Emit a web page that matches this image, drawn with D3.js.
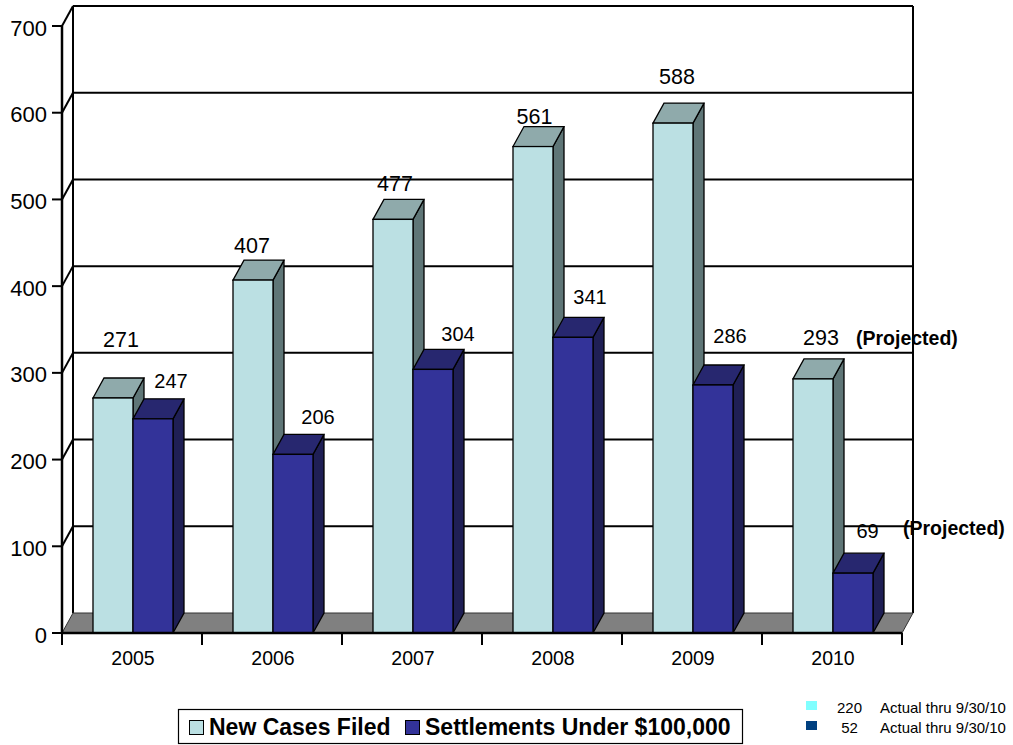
<!DOCTYPE html>
<html>
<head>
<meta charset="utf-8">
<script src="https://cdn.jsdelivr.net/npm/d3@7"></script>
<style>
  html, body { margin: 0; padding: 0; background: #fff; }
  svg { display: block; font-family: "Liberation Sans", Arial, sans-serif; }
</style>
</head>
<body>
<svg id="chart" width="1013" height="745"></svg>
<script>
// Yearly counts
const years = ["2005", "2006", "2007", "2008", "2009", "2010"];
const newCases = [271, 407, 477, 561, 588, 293];
const settlements = [247, 206, 304, 341, 286, 69];
const yTicks = [0, 100, 200, 300, 400, 500, 600, 700];
const seriesNames = ["New Cases Filed", "Settlements Under $100,000"];
const noteValues = [220, 52];
const noteText = "Actual thru 9/30/10";
const projectedText = "(Projected)";

const svg = d3.select("#chart");

// 3-D box geometry
const DX = 11, DY = -20;
const x = d3.scaleBand().domain(years).range([62, 902]).paddingInner(0).paddingOuter(0);
const y = d3.scaleLinear().domain([0, 700]).range([633, 26]);
const xLeft = x.range()[0], xRight = x.range()[1];

const light = { front: "#bbe0e3", top: "#8faaab", side: "#5f7677" };
const dark = { front: "#333399", top: "#27276f", side: "#1f1f55" };
const noteColors = ["#80ffff", "#004080"];

// Back wall gridlines and left wall diagonals
const grid = svg.append("g").attr("stroke", "#000").attr("stroke-width", 2);
yTicks.filter(d => d > 0).forEach(t => {
  grid.append("line")
    .attr("x1", xLeft + DX).attr("x2", xRight + DX)
    .attr("y1", y(t) + DY).attr("y2", y(t) + DY);
  grid.append("line")
    .attr("x1", xLeft).attr("x2", xLeft + DX)
    .attr("y1", y(t)).attr("y2", y(t) + DY);
});
[xLeft + DX, xRight + DX].forEach(px => {
  grid.append("line")
    .attr("x1", px).attr("x2", px)
    .attr("y1", y(700) + DY).attr("y2", y(0) + DY);
});

// Floor
svg.append("polygon")
  .attr("points", [
    [xLeft, y(0)], [xLeft + DX, y(0) + DY], [xRight + DX, y(0) + DY], [xRight, y(0)]
  ].map(p => p.join(",")).join(" "))
  .attr("fill", "#808080").attr("stroke", "#333").attr("stroke-width", 1);

// 3-D bar: side, top, then front face
function bar3d(g, x0, w, v, c) {
  const yt = y(v), yb = y(0);
  const pts = a => a.map(p => p.join(",")).join(" ");
  g.append("polygon")
    .attr("points", pts([[x0 + w, yt], [x0 + w + DX, yt + DY], [x0 + w + DX, yb + DY], [x0 + w, yb]]))
    .attr("fill", c.side).attr("stroke", "#000").attr("stroke-width", 1.3);
  g.append("polygon")
    .attr("points", pts([[x0, yt], [x0 + DX, yt + DY], [x0 + w + DX, yt + DY], [x0 + w, yt]]))
    .attr("fill", c.top).attr("stroke", "#000").attr("stroke-width", 1.3);
  g.append("rect")
    .attr("x", x0).attr("y", yt).attr("width", w).attr("height", yb - yt)
    .attr("fill", c.front).attr("stroke", "#000").attr("stroke-width", 1.3);
}

const barW = 40, groupOffset = 31;
const bars = svg.append("g");
years.forEach((yr, i) => {
  const b = x(yr) + groupOffset;
  bar3d(bars, b, barW, newCases[i], light);
  bar3d(bars, b + barW, barW, settlements[i], dark);
});

// Axes
const axisG = svg.append("g");
axisG.append("line")
  .attr("x1", xLeft).attr("x2", xLeft).attr("y1", y(700)).attr("y2", y(0))
  .attr("stroke", "#000").attr("stroke-width", 2.5);
axisG.append("line")
  .attr("x1", xLeft).attr("x2", xRight).attr("y1", y(0)).attr("y2", y(0))
  .attr("stroke", "#000").attr("stroke-width", 2.5);

yTicks.forEach(t => {
  axisG.append("line")
    .attr("x1", xLeft - 10).attr("x2", xLeft).attr("y1", y(t)).attr("y2", y(t))
    .attr("stroke", "#000").attr("stroke-width", 2);
  axisG.append("text")
    .attr("x", 47).attr("y", y(t) + 9.5)
    .attr("text-anchor", "end").attr("font-size", 22).attr("fill", "#000")
    .text(t);
});

years.forEach(yr => {
  axisG.append("text")
    .attr("x", x(yr) + x.bandwidth() / 2 + 1).attr("y", y(0) + 32)
    .attr("text-anchor", "middle").attr("font-size", 19.5).attr("fill", "#000")
    .text(yr);
});
[...years.map(d => x(d)), xRight].forEach(px => {
  axisG.append("line")
    .attr("x1", px).attr("x2", px).attr("y1", y(0)).attr("y2", y(0) + 12)
    .attr("stroke", "#000").attr("stroke-width", 2);
});

// Value labels, nudged around each bar top
const lightNudge = [[8, -51], [-1, -27], [2, -28], [1.5, -23], [4, -39], [8, -34]];
const darkNudge = [[18, -31], [25, -30], [25, -28], [17, -33], [17, -42], [14.5, -35]];
const labels = svg.append("g").attr("fill", "#000");
years.forEach((yr, i) => {
  const b = x(yr) + groupOffset;
  labels.append("text")
    .attr("x", b + barW / 2 + lightNudge[i][0])
    .attr("y", y(newCases[i]) + lightNudge[i][1])
    .attr("text-anchor", "middle").attr("font-size", 21.5)
    .text(newCases[i]);
  labels.append("text")
    .attr("x", b + barW * 1.5 + darkNudge[i][0])
    .attr("y", y(settlements[i]) + darkNudge[i][1])
    .attr("text-anchor", "middle").attr("font-size", 20)
    .text(settlements[i]);
});
const last = years.length - 1;
labels.append("text")
  .attr("x", 856).attr("y", y(newCases[last]) + lightNudge[last][1])
  .attr("font-size", 19.5).attr("font-weight", "bold")
  .text(projectedText);
labels.append("text")
  .attr("x", 903).attr("y", y(settlements[last]) + darkNudge[last][1] - 3)
  .attr("font-size", 19.5).attr("font-weight", "bold")
  .text(projectedText);

// Legend
const leg = svg.append("g");
leg.append("rect")
  .attr("x", 178.5).attr("y", 709.5).attr("width", 564).attr("height", 34)
  .attr("fill", "#fff").attr("stroke", "#000").attr("stroke-width", 1.2);
const legX = [189, 405];
[light.front, dark.front].forEach((c, i) => {
  leg.append("rect")
    .attr("x", legX[i] + 0.5).attr("y", 720.5).attr("width", 14).attr("height", 14)
    .attr("fill", c).attr("stroke", "#000").attr("stroke-width", 1);
  leg.append("text")
    .attr("x", legX[i] + 20).attr("y", 735)
    .attr("font-size", 23).attr("font-weight", "bold").attr("fill", "#000")
    .text(seriesNames[i]);
});

// Year-to-date notes
const nt = svg.append("g");
noteValues.forEach((v, i) => {
  const yy = 701 + i * 20;
  nt.append("rect")
    .attr("x", 806).attr("y", yy).attr("width", 11).attr("height", 9)
    .attr("fill", noteColors[i]);
  nt.append("text")
    .attr("x", 849.5).attr("y", yy + 12)
    .attr("text-anchor", "middle").attr("font-size", 15).attr("fill", "#000")
    .text(v);
  nt.append("text")
    .attr("x", 880).attr("y", yy + 12)
    .attr("font-size", 15).attr("fill", "#000")
    .text(noteText);
});
</script>
</body>
</html>
